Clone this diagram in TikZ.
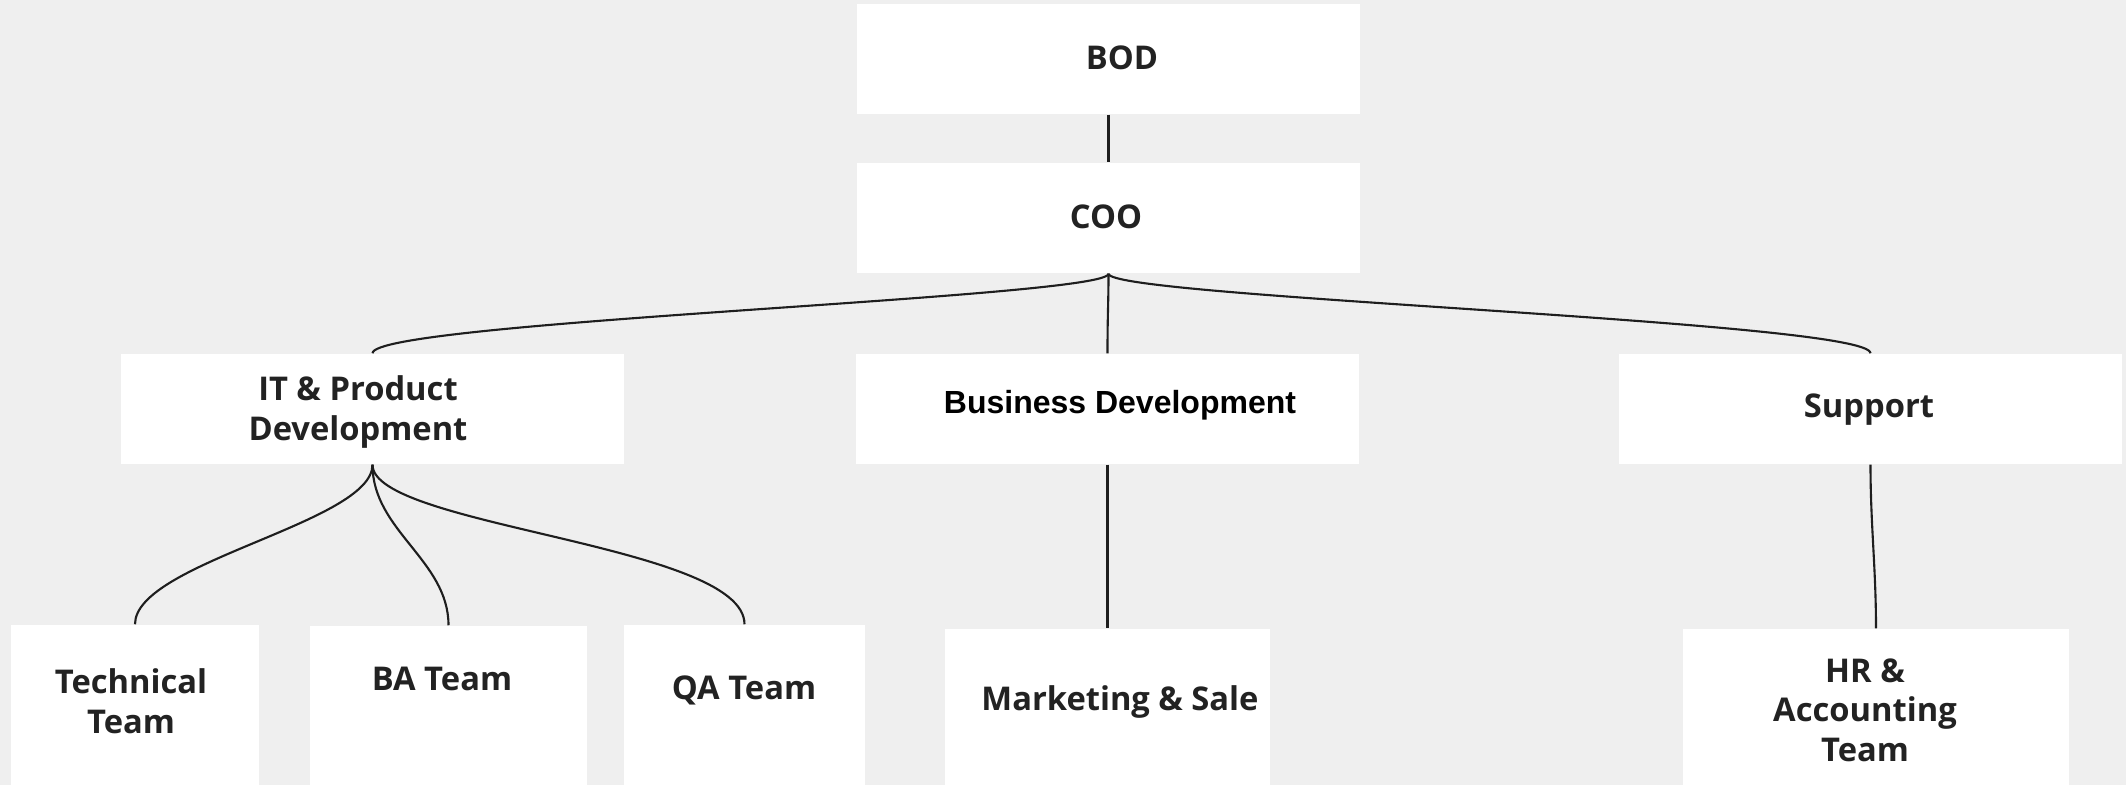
\documentclass[tikz,border=0pt]{standalone}
\usepackage{fontspec}
\setmainfont{Open Sans}
\newfontfamily\arialfont{Liberation Sans}
\usepackage{xcolor}
\usepackage{tikz}
\definecolor{bgcol}{HTML}{EFEFEF}
\definecolor{txtcol}{HTML}{222222}
\definecolor{linecol}{HTML}{1E1E1E}
\tikzset{
  box/.style={rectangle, fill=white, inner sep=0pt},
  lbl/.style={font=\fontsize{9.3}{11.1}\selectfont\bfseries, text=txtcol, align=center, inner sep=0pt, anchor=base},
  link/.style={draw=linecol, line width=0.6pt},
}

\begin{document}
\begin{tikzpicture}[x=0.01cm, y=-0.01cm]
            %背景
            \fill[bgcol] (0,0) rectangle (2126,785);
            \useasboundingbox (0,0) rectangle (2126,785);
            %绘制上两层矩形
            \node[box, minimum width=5.03cm, minimum height=1.10cm] (bod) at (1108.5,59) {};
            \node[box, minimum width=5.03cm, minimum height=1.10cm] (coo) at (1108.5,218) {};
            %绘制第三层矩形
            \node[box, minimum width=5.03cm, minimum height=1.10cm] (it) at (372.5,409) {};
            \node[box, minimum width=5.03cm, minimum height=1.10cm] (bizdev) at (1107.5,409) {};
            \node[box, minimum width=5.03cm, minimum height=1.10cm] (support) at (1870.5,409) {};
            %绘制最下层矩形
            \node[box, minimum width=2.48cm, minimum height=1.60cm] (tech) at (135,705) {};
            \node[box, minimum width=2.77cm, minimum height=1.59cm] (ba) at (448.5,705.5) {};
            \node[box, minimum width=2.41cm, minimum height=1.60cm] (qa) at (744.5,705) {};
            \node[box, minimum width=3.25cm, minimum height=1.56cm] (mk) at (1107.5,707) {};
            \node[box, minimum width=3.86cm, minimum height=1.56cm] (hr) at (1876,707) {};
            %绘制连线
            \draw[link] (bod.south) -- (coo.north);
            \draw[link] (coo.south) .. controls +(0,24) and +(0,-32) .. (it.north);
            \draw[link] (coo.south) .. controls +(0,30) and +(0,-40) .. (bizdev.north);
            \draw[link] (coo.south) .. controls +(0,24) and +(0,-32) .. (support.north);
            \draw[link] (it.south) .. controls +(0,58) and +(0,-62) .. (tech.north);
            \draw[link] (it.south) .. controls +(0,66) and +(0,-65) .. (ba.north);
            \draw[link] (it.south) .. controls +(0,62) and +(0,-80) .. (qa.north);
            \draw[link] (bizdev.south) .. controls +(0,60) and +(0,-60) .. (mk.north);
            \draw[link] (support.south) .. controls +(0,60) and +(0,-60) .. (hr.north);
            %绘制每个矩形中的文字
            \node[lbl] (bodtext) at (1122,70) {BOD};
            \node[lbl] (cootext) at (1106,229) {COO};
            \node[lbl] (ittext) at (358,440) {IT \& Product\\Development};
            \node[lbl, font=\arialfont\fontsize{9.1}{10}\selectfont\bfseries, text=black] (bizdevtext) at (1120,413) {Business Development};
            \node[lbl] (supporttext) at (1869,418) {Support};
            \node[lbl] (techtext) at (131,733) {Technical\\Team};
            \node[lbl] (batext) at (442,690) {BA Team};
            \node[lbl] (qatext) at (744,699) {QA Team};
            \node[lbl] (mktext) at (1120,710) {Marketing \& Sale};
            \node[lbl] (hrtext) at (1865,761) {HR \&\\Accounting\\Team};
        \end{tikzpicture}
\end{document}
